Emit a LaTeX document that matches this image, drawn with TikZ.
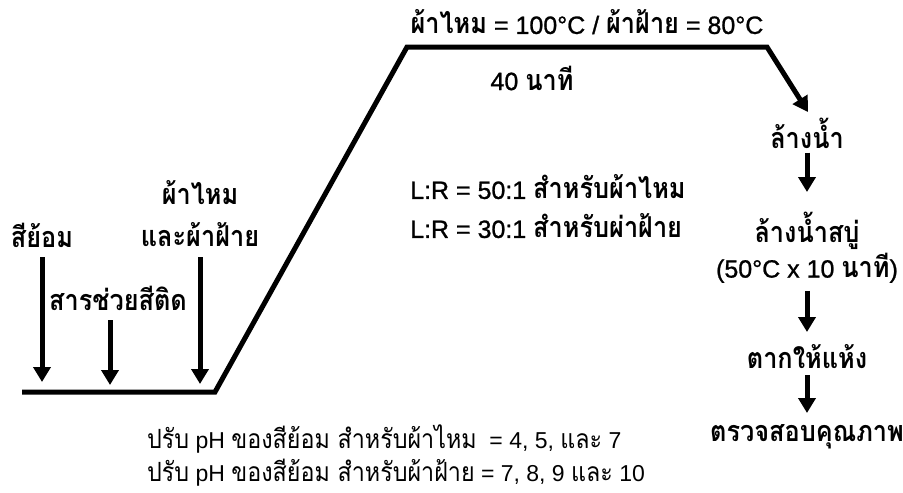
\documentclass[tikz,border=0pt]{standalone}
\usepackage{fontspec}
\setmainfont{Liberation Sans}
\newfontfamily\latm[FakeBold=1]{Liberation Sans}
\newfontfamily\thf[Script=Thai, Scale=1.15, FakeStretch=0.88]{Loma}
\newcommand\tb[1]{{\thf\bfseries #1}}
\newcommand\tr[1]{{\thf #1}}
\usetikzlibrary{arrows.meta}
\begin{document}
\begin{tikzpicture}[x=1pt,y=-1pt,
  lab/.style={font=\latm\fontsize{25}{30}\selectfont, inner sep=0pt},
  note/.style={font=\fontsize{23}{27}\selectfont, anchor=west, inner sep=0pt},
  tip/.style={-{Triangle[width=17pt,length=15pt]}},
  arr/.style={line width=5pt, tip},
  prof/.style={line width=5pt, line join=miter, tip}]
\useasboundingbox (0,0) rectangle (903,493);
% temperature profile
\coordinate (s0) at (22,392);
\coordinate (s1) at (215,392);
\coordinate (s2) at (407,47);
\coordinate (s3) at (767,47);
\coordinate (s4) at (808,112);
\draw[prof] (s0) -- (s1) -- (s2) -- (s3) -- (s4);
% left labels
\node[lab] (dye) at (42,235) {\tb{สีย้อม}};
\node[lab] (silk1) at (200,193) {\tb{ผ้าไหม}};
\node[lab] (silk2) at (200,235) {\tb{และผ้าฝ้าย}};
\node[lab] (aux) at (118,298) {\tb{สารช่วยสีติด}};
\coordinate (a1s) at (42,257);
\coordinate (a1) at (42,382);
\coordinate (a2) at (110,385);
\coordinate (a3) at (200,384);
\draw[arr] (dye.south |- a1s) -- (a1);
\draw[arr] (aux.south -| a2) ++(0,10) -- (a2);
\draw[arr] (silk2.south) ++(0,10) -- (a3);
% top labels
\node[lab] (temp) at (587,22) {\tb{ผ้าไหม} = 100°C / \tb{ผ้าฝ้าย} = 80°C};
\node[lab] (time) at (532,78) {40 \tb{นาที}};
\node[lab, anchor=west] (lr1) at (410,187) {L:R = 50:1 \tb{สำหรับผ้าไหม}};
\node[lab, anchor=west] (lr2) at (410,226) {L:R = 30:1 \tb{สำหรับผ่าฝ้าย}};
% right column
\node[lab] (wash) at (807,133) {\tb{ล้างน้ำ}};
\node[lab] (soap) at (807,231) {\tb{ล้างน้ำสบู่}};
\node[lab] (cond) at (807,268) {(50°C x 10 \tb{นาที})};
\node[lab] (dry) at (807,357) {\tb{ตากให้แห้ง}};
\node[lab] (qc) at (807,437) {\tb{ตรวจสอบคุณภาพ}};
\coordinate (r1) at (807,192);
\coordinate (r2) at (807,332);
\coordinate (r3) at (807,413);
\draw[arr] (wash.south) ++(0,4) -- (r1);
\draw[arr] (cond.south) ++(0,8) -- (r2);
\draw[arr] (dry.south) ++(0,6) -- (r3);
% bottom notes
\node[note] (ph1) at (147,439) {\tr{ปรับ} pH \tr{ของสีย้อม สำหรับผ้าไหม}\ \ = 4, 5, \tr{และ} 7};
\node[note] (ph2) at (147,473) {\tr{ปรับ} pH \tr{ของสีย้อม สำหรับผ้าฝ้าย} = 7, 8, 9 \tr{และ} 10};
\end{tikzpicture}
\end{document}
